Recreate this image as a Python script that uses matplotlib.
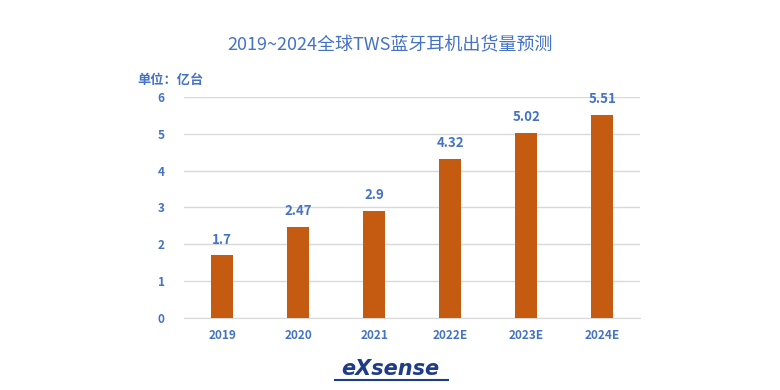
import matplotlib.pyplot as plt
import numpy as np

plt.rcParams['font.family'] = ['Noto Sans CJK SC', 'DejaVu Sans']

years = ['2019', '2020', '2021', '2022E', '2023E', '2024E']
shipments = [1.7, 2.47, 2.9, 4.32, 5.02, 5.51]
value_labels = ['1.7', '2.47', '2.9', '4.32', '5.02', '5.51']

blue = '#4472C4'
bar_color = '#C55A11'

fig = plt.figure(figsize=(7.8, 3.9), dpi=100)
ax = fig.add_axes([0.236, 0.1846, 0.585, 0.567])

x = np.arange(len(years))
ax.bar(x, shipments, width=0.29, color=bar_color, zorder=3)
for xi, v, lab in zip(x, shipments, value_labels):
    ax.text(xi, v + 0.24, lab, ha='center', va='bottom', color=blue,
            fontsize=9.5, fontweight='bold')

ax.set_xlim(-0.5, len(years) - 0.5)
ax.set_ylim(0, 6)
ax.set_yticks(range(0, 7))
ax.set_xticks(x)
ax.set_xticklabels(years)
ax.yaxis.grid(True, color='#D9D9D9', linewidth=1, zorder=0)
for s in ['top', 'right', 'left']:
    ax.spines[s].set_visible(False)
ax.spines['bottom'].set_color('#D9D9D9')
ax.tick_params(axis='both', length=0, colors=blue, labelsize=8.5)
ax.tick_params(axis='y', pad=14)
ax.tick_params(axis='x', pad=8)
for lab in ax.get_xticklabels() + ax.get_yticklabels():
    lab.set_fontweight('bold')

fig.text(0.5, 0.883, '2019~2024全球TWS蓝牙耳机出货量预测', ha='center', va='center',
         color=blue, fontsize=13, fontweight='medium')
fig.text(0.176, 0.795, '单位：亿台', ha='left', va='center', color=blue,
         fontsize=9.5, fontweight='bold')

# logo
fig.text(0.5, 0.055, 'eXsense', ha='center', va='center', color='#1F3C88',
         fontsize=15, fontweight='bold', style='italic', family='DejaVu Sans')
fig.add_artist(plt.Line2D([0.43, 0.575], [0.025, 0.025], color='#1F3C88', linewidth=1.5))

fig.savefig('out.png', dpi=100)
